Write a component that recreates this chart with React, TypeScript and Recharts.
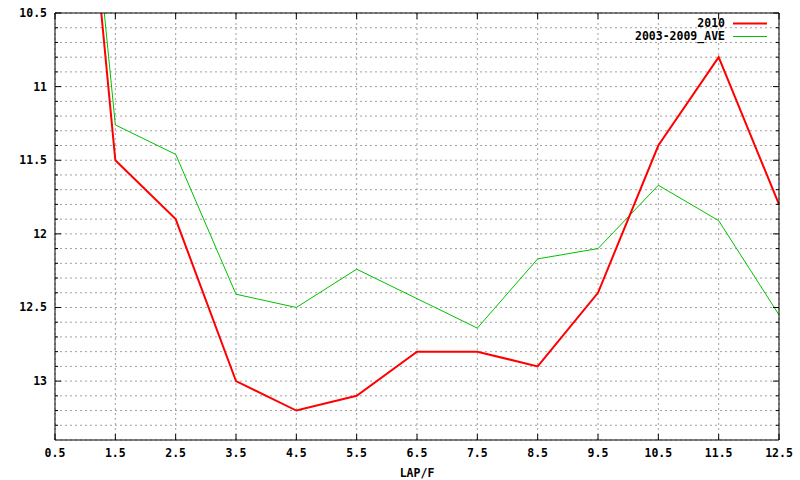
import { LineChart, Line, XAxis, YAxis, CartesianGrid } from "recharts";

// lap positions (x) and lap times per furlong
const laps = [0.5, 1.5, 2.5, 3.5, 4.5, 5.5, 6.5, 7.5, 8.5, 9.5, 10.5, 11.5, 12.5];
const times2010 = [7.2, 11.5, 11.9, 13.0, 13.2, 13.1, 12.8, 12.8, 12.9, 12.4, 11.4, 10.8, 11.8];
const timesAve = [7.1, 11.26, 11.46, 12.41, 12.5, 12.24, 12.44, 12.64, 12.17, 12.1, 11.67, 11.91, 12.55];

const xTicks = [0.5, 1.5, 2.5, 3.5, 4.5, 5.5, 6.5, 7.5, 8.5, 9.5, 10.5, 11.5, 12.5];
const yMajor = [10.5, 11, 11.5, 12, 12.5, 13];
const yTicks = [
  10.5, 10.6, 10.7, 10.8, 10.9, 11, 11.1, 11.2, 11.3, 11.4, 11.5, 11.6, 11.7, 11.8, 11.9,
  12, 12.1, 12.2, 12.3, 12.4, 12.5, 12.6, 12.7, 12.8, 12.9, 13, 13.1, 13.2, 13.3,
];

const data = laps.map((lap, i) => ({ lap, y2010: times2010[i], ave: timesAve[i] }));

const FONT = "'DejaVu Sans Mono', monospace";

const isMajor = (v: number) => yMajor.some((m) => Math.abs(m - v) < 1e-6);

const LeftTick = ({ x, y, payload }: any) => {
  const major = isMajor(payload.value);
  return (
    <g>
      <line x1={x} x2={x + (major ? 6 : 3)} y1={y} y2={y} stroke="#000" />
      {major && (
        <text x={x - 8} y={y} dy={4} textAnchor="end" fontFamily={FONT} fontWeight="bold" fontSize={11.5} fill="#000">
          {payload.value}
        </text>
      )}
    </g>
  );
};

const RightTick = ({ x, y, payload }: any) => {
  const major = isMajor(payload.value);
  return <line x1={x} x2={x - (major ? 6 : 3)} y1={y} y2={y} stroke="#000" />;
};

const BottomTick = ({ x, y, payload }: any) => (
  <g>
    <line x1={x} x2={x} y1={y} y2={y - 6} stroke="#000" />
    <text x={x} y={y + 17} textAnchor="middle" fontFamily={FONT} fontWeight="bold" fontSize={11.5} fill="#000">
      {payload.value}
    </text>
  </g>
);

const TopTick = ({ x, y }: any) => <line x1={x} x2={x} y1={y} y2={y + 6} stroke="#000" />;

const legendItems = [
  { label: "2010", color: "#ff0000", width: 2 },
  { label: "2003-2009_AVE", color: "#00c000", width: 1 },
];

const LegendBox = () => (
  <div
    style={{
      position: "absolute",
      top: 17,
      right: 33,
      fontFamily: FONT,
      fontWeight: "bold",
      fontSize: 11.5,
      lineHeight: "13px",
    }}
  >
    {legendItems.map((it) => (
      <div key={it.label} style={{ display: "flex", alignItems: "center", justifyContent: "flex-end" }}>
        <span>{it.label}</span>
        <svg width={34} height={13} style={{ marginLeft: 8 }}>
          <line x1={0} x2={34} y1={6.5} y2={6.5} stroke={it.color} strokeWidth={it.width} />
        </svg>
      </div>
    ))}
  </div>
);

export default function App() {
  return (
    <div style={{ position: "absolute", left: 0, top: 0, width: 800, height: 480, background: "#fff" }}>
      <LineChart width={800} height={480} data={data} margin={{ top: 0, right: 0, bottom: 0, left: 0 }}>
        <CartesianGrid stroke="#a0a0a0" strokeDasharray="2 3" />
        <XAxis
          dataKey="lap"
          type="number"
          domain={[0.5, 12.5]}
          ticks={xTicks}
          height={40}
          tickSize={0}
          tickMargin={0}
          tickLine={false}
          axisLine={{ stroke: "#000" }}
          tick={<BottomTick />}
          interval={0}
          label={{ value: "LAP/F", position: "insideBottom", offset: 3, fontFamily: FONT, fontWeight: "bold", fontSize: 11.5, fill: "#000" }}
        />
        <XAxis
          xAxisId="top"
          dataKey="lap"
          type="number"
          orientation="top"
          domain={[0.5, 12.5]}
          ticks={xTicks}
          height={13}
          tickSize={0}
          tickMargin={0}
          tickLine={false}
          axisLine={{ stroke: "#000" }}
          tick={<TopTick />}
          interval={0}
        />
        <YAxis
          type="number"
          domain={[10.5, 13.4]}
          reversed
          allowDataOverflow
          ticks={yTicks}
          width={55}
          tickSize={0}
          tickMargin={0}
          tickLine={false}
          axisLine={{ stroke: "#000" }}
          tick={<LeftTick />}
          interval={0}
        />
        <YAxis
          yAxisId="right"
          orientation="right"
          type="number"
          domain={[10.5, 13.4]}
          reversed
          allowDataOverflow
          ticks={yTicks}
          width={21}
          tickSize={0}
          tickMargin={0}
          tickLine={false}
          axisLine={{ stroke: "#000" }}
          tick={<RightTick />}
          interval={0}
        />
        <Line
          dataKey="ave"
          stroke="#00c000"
          strokeWidth={1}
          dot={false}
          activeDot={false}
          isAnimationActive={false}
        />
        <Line
          dataKey="y2010"
          stroke="#ff0000"
          strokeWidth={2}
          dot={false}
          activeDot={false}
          isAnimationActive={false}
        />
      </LineChart>
      <LegendBox />
    </div>
  );
}
